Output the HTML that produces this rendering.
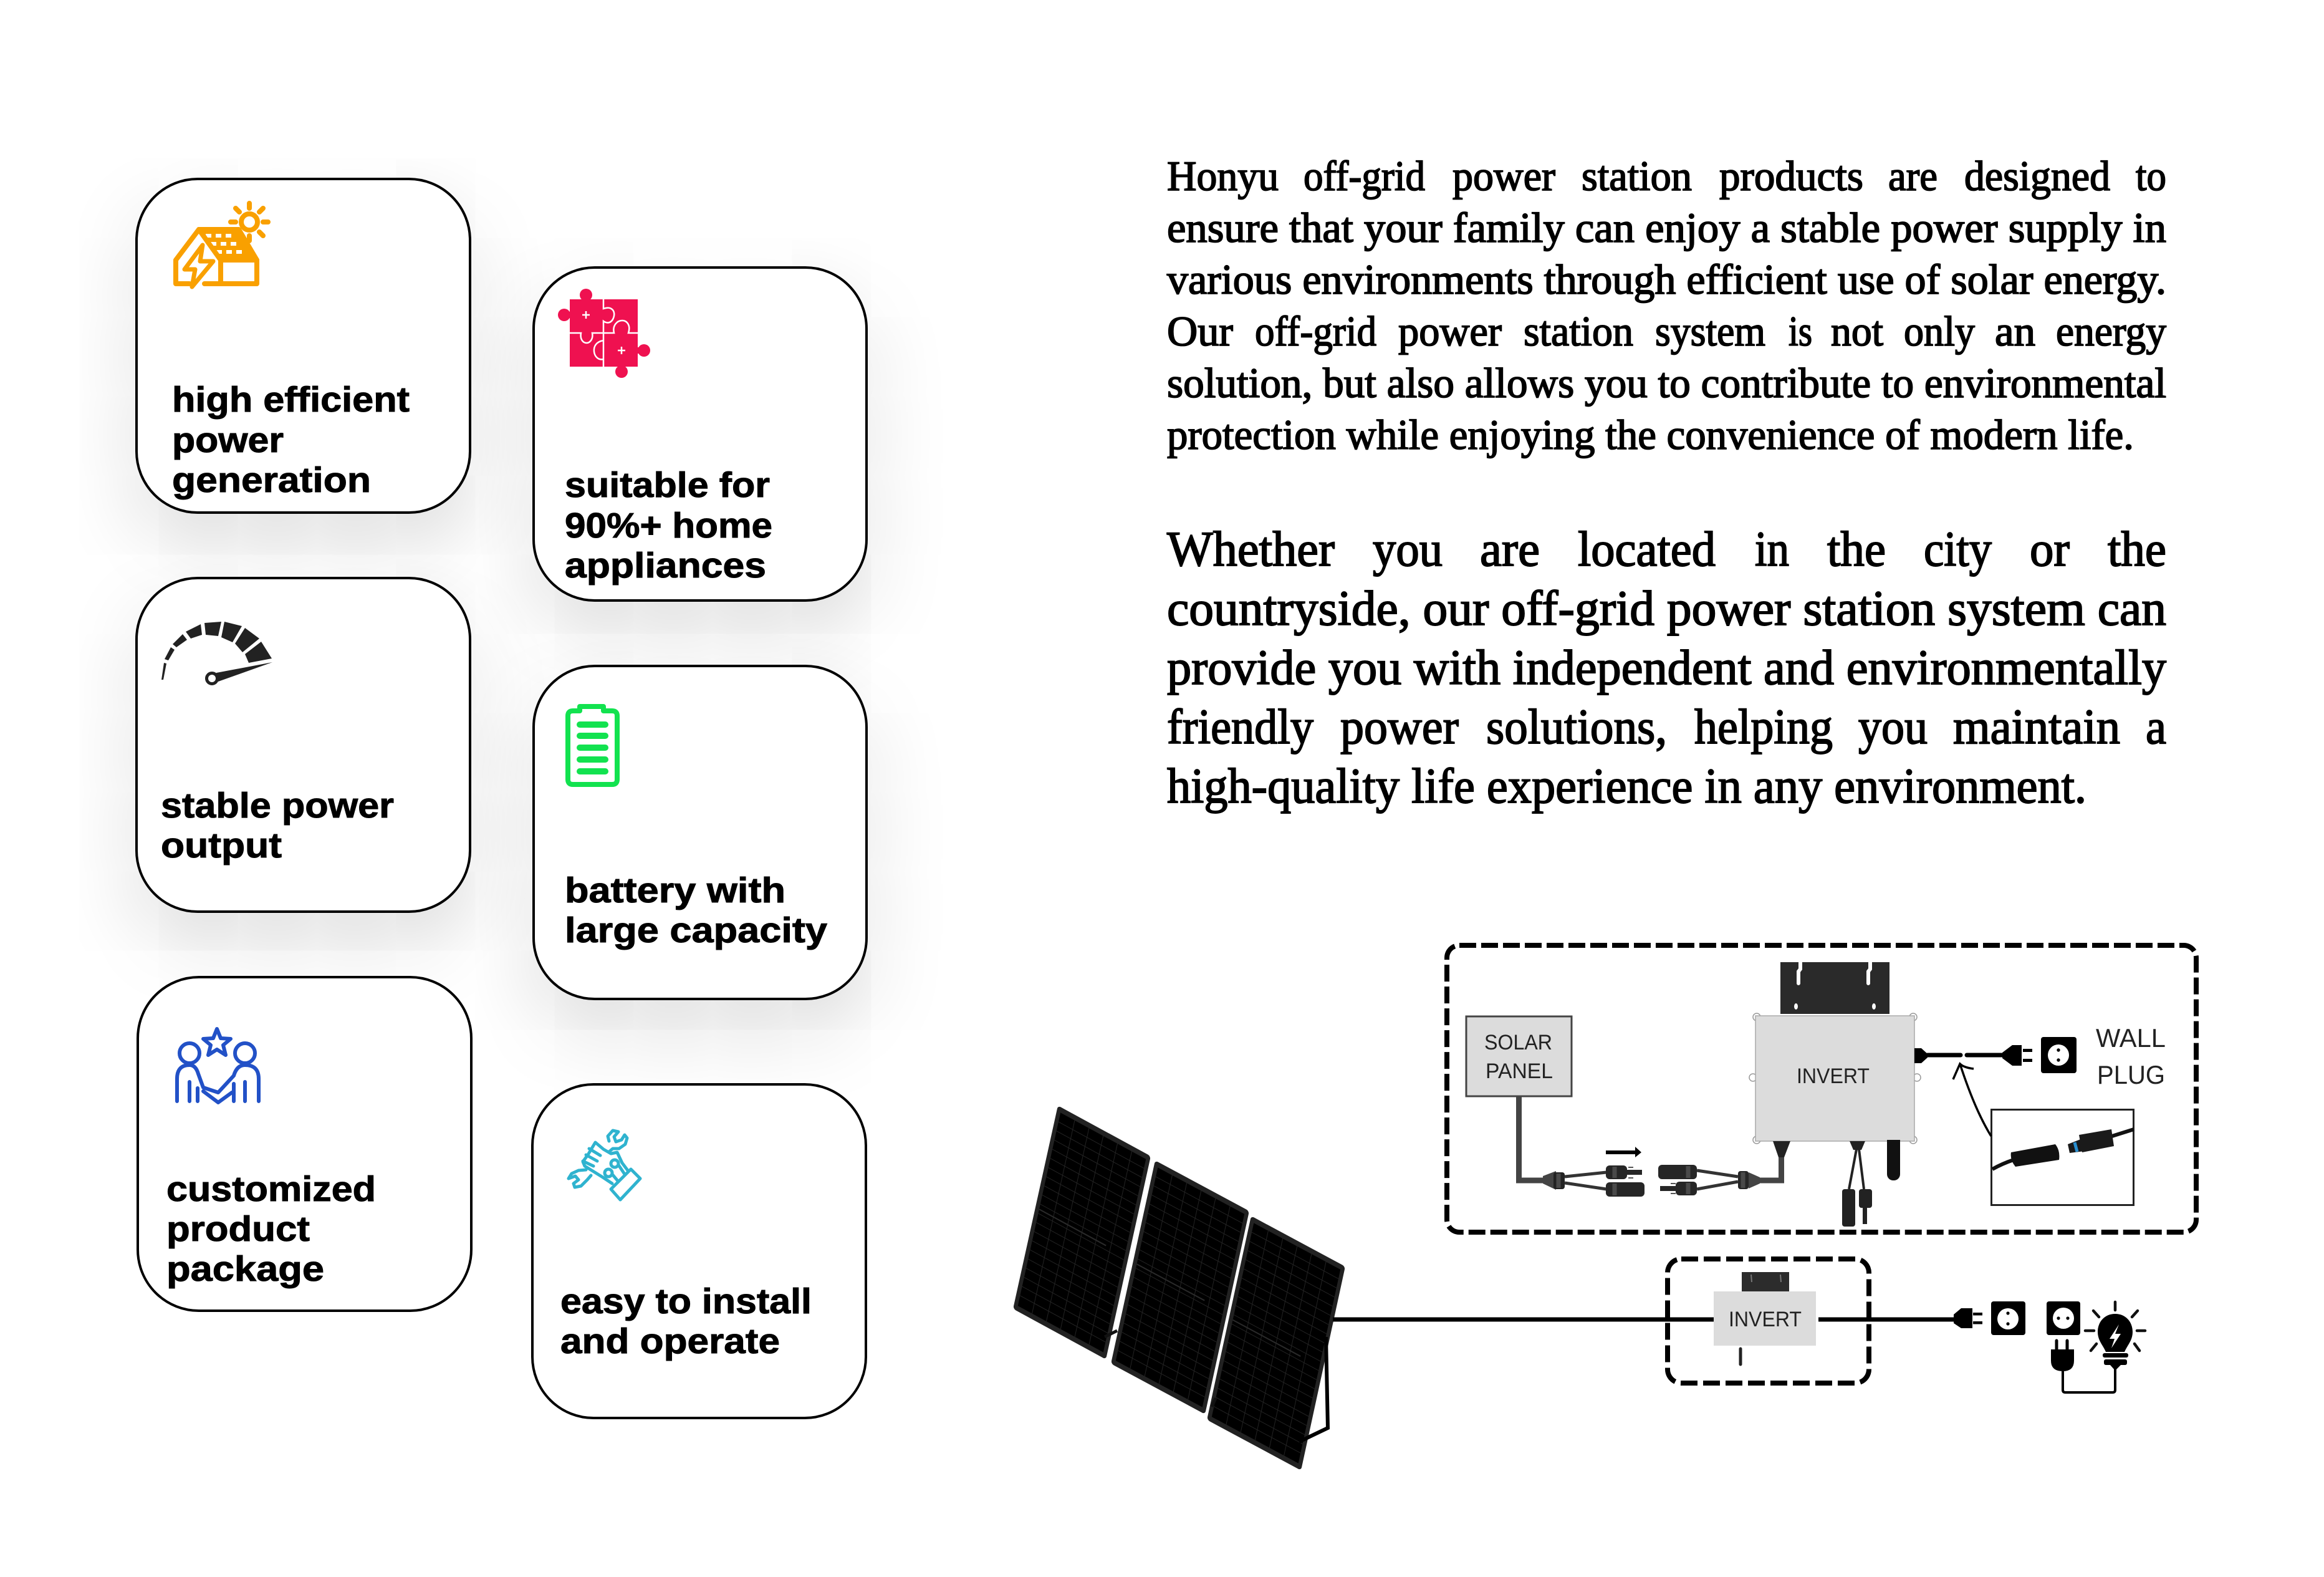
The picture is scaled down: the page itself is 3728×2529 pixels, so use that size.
<!DOCTYPE html>
<html>
<head>
<meta charset="utf-8">
<style>
html,body{margin:0;padding:0;background:#fff;width:3728px;height:2529px;overflow:hidden}
.c{position:absolute;box-sizing:border-box;width:539px;height:539px;background:#fff;border:4px solid #000;border-radius:100px}
.s{box-shadow:0 50px 140px rgba(0,0,0,.15)}
svg{position:absolute;left:0;top:0}
.b{font:bold 57px "Liberation Sans",sans-serif;fill:#000;stroke:#000;stroke-width:1}
.p1{font:68px "Liberation Serif",serif;fill:#000;stroke:#000;stroke-width:1.8}
.p2{font:79px "Liberation Serif",serif;fill:#000;stroke:#000;stroke-width:1.9}
.l{font:34px "Liberation Sans",sans-serif;fill:#222}
.w{font:42px "Liberation Sans",sans-serif;fill:#222}
</style>
</head>
<body>
<div class="c s" style="left:217px;top:285px"></div>
<div class="c s" style="left:217px;top:925px"></div>
<div class="c s" style="left:854px;top:427px;height:538px;width:538px"></div>
<div class="c s" style="left:854px;top:1066px;height:538px;width:538px"></div>
<div class="c" style="left:219px;top:1565px;height:539px"></div>
<div class="c" style="left:852px;top:1737px"></div>

<svg width="3728" height="2529" viewBox="0 0 3728 2529" xmlns="http://www.w3.org/2000/svg">
<!-- card text -->
<g>
<text class="b" x="276" y="660" textLength="381" lengthAdjust="spacingAndGlyphs">high efficient</text>
<text class="b" x="276" y="725" textLength="179" lengthAdjust="spacingAndGlyphs">power</text>
<text class="b" x="276" y="789" textLength="319" lengthAdjust="spacingAndGlyphs">generation</text>
<text class="b" x="906" y="797" textLength="329" lengthAdjust="spacingAndGlyphs">suitable for</text>
<text class="b" x="906" y="862" textLength="333" lengthAdjust="spacingAndGlyphs">90%+ home</text>
<text class="b" x="906" y="926" textLength="323" lengthAdjust="spacingAndGlyphs">appliances</text>
<text class="b" x="258" y="1311" textLength="374" lengthAdjust="spacingAndGlyphs">stable power</text>
<text class="b" x="258" y="1375" textLength="194" lengthAdjust="spacingAndGlyphs">output</text>
<text class="b" x="906" y="1447" textLength="354" lengthAdjust="spacingAndGlyphs">battery with</text>
<text class="b" x="906" y="1511" textLength="421" lengthAdjust="spacingAndGlyphs">large capacity</text>
<text class="b" x="267" y="1926" textLength="336" lengthAdjust="spacingAndGlyphs">customized</text>
<text class="b" x="267" y="1990" textLength="230" lengthAdjust="spacingAndGlyphs">product</text>
<text class="b" x="267" y="2054" textLength="253" lengthAdjust="spacingAndGlyphs">package</text>
<text class="b" x="899" y="2106" textLength="403" lengthAdjust="spacingAndGlyphs">easy to install</text>
<text class="b" x="899" y="2170" textLength="352" lengthAdjust="spacingAndGlyphs">and operate</text>
</g>

<!-- paragraph 1 -->
<g>
<text class="p1" x="1872" y="305" textLength="179" lengthAdjust="spacingAndGlyphs">Honyu</text>
<text class="p1" x="2091" y="305" textLength="195" lengthAdjust="spacingAndGlyphs">off-grid</text>
<text class="p1" x="2330" y="305" textLength="165" lengthAdjust="spacingAndGlyphs">power</text>
<text class="p1" x="2537" y="305" textLength="177" lengthAdjust="spacingAndGlyphs">station</text>
<text class="p1" x="2758" y="305" textLength="231" lengthAdjust="spacingAndGlyphs">products</text>
<text class="p1" x="3029" y="305" textLength="79" lengthAdjust="spacingAndGlyphs">are</text>
<text class="p1" x="3151" y="305" textLength="234" lengthAdjust="spacingAndGlyphs">designed</text>
<text class="p1" x="3426" y="305" textLength="49" lengthAdjust="spacingAndGlyphs">to</text>
<text class="p1" x="1872" y="388" textLength="1603" lengthAdjust="spacingAndGlyphs">ensure that your family can enjoy a stable power supply in</text>
<text class="p1" x="1872" y="471" textLength="1603" lengthAdjust="spacingAndGlyphs">various environments through efficient use of solar energy.</text>
<text class="p1" x="1872" y="554" textLength="106" lengthAdjust="spacingAndGlyphs">Our</text>
<text class="p1" x="2013" y="554" textLength="195" lengthAdjust="spacingAndGlyphs">off-grid</text>
<text class="p1" x="2243" y="554" textLength="166" lengthAdjust="spacingAndGlyphs">power</text>
<text class="p1" x="2444" y="554" textLength="176" lengthAdjust="spacingAndGlyphs">station</text>
<text class="p1" x="2655" y="554" textLength="177" lengthAdjust="spacingAndGlyphs">system</text>
<text class="p1" x="2869" y="554" textLength="38" lengthAdjust="spacingAndGlyphs">is</text>
<text class="p1" x="2937" y="554" textLength="84" lengthAdjust="spacingAndGlyphs">not</text>
<text class="p1" x="3054" y="554" textLength="114" lengthAdjust="spacingAndGlyphs">only</text>
<text class="p1" x="3200" y="554" textLength="65" lengthAdjust="spacingAndGlyphs">an</text>
<text class="p1" x="3298" y="554" textLength="177" lengthAdjust="spacingAndGlyphs">energy</text>
<text class="p1" x="1872" y="637" textLength="1603" lengthAdjust="spacingAndGlyphs">solution, but also allows you to contribute to environmental</text>
<text class="p1" x="1872" y="720" textLength="1551" lengthAdjust="spacingAndGlyphs">protection while enjoying the convenience of modern life.</text>
</g>

<!-- paragraph 2 -->
<g>
<text class="p2" x="1872" y="907" textLength="269" lengthAdjust="spacingAndGlyphs">Whether</text>
<text class="p2" x="2202" y="907" textLength="112" lengthAdjust="spacingAndGlyphs">you</text>
<text class="p2" x="2374" y="907" textLength="96" lengthAdjust="spacingAndGlyphs">are</text>
<text class="p2" x="2531" y="907" textLength="221" lengthAdjust="spacingAndGlyphs">located</text>
<text class="p2" x="2815" y="907" textLength="55" lengthAdjust="spacingAndGlyphs">in</text>
<text class="p2" x="2931" y="907" textLength="94" lengthAdjust="spacingAndGlyphs">the</text>
<text class="p2" x="3086" y="907" textLength="109" lengthAdjust="spacingAndGlyphs">city</text>
<text class="p2" x="3256" y="907" textLength="64" lengthAdjust="spacingAndGlyphs">or</text>
<text class="p2" x="3381" y="907" textLength="94" lengthAdjust="spacingAndGlyphs">the</text>
<text class="p2" x="1872" y="1002" textLength="1603" lengthAdjust="spacingAndGlyphs">countryside, our off-grid power station system can</text>
<text class="p2" x="1872" y="1097" textLength="1603" lengthAdjust="spacingAndGlyphs">provide you with independent and environmentally</text>
<text class="p2" x="1872" y="1192" textLength="235" lengthAdjust="spacingAndGlyphs">friendly</text>
<text class="p2" x="2150" y="1192" textLength="190" lengthAdjust="spacingAndGlyphs">power</text>
<text class="p2" x="2384" y="1192" textLength="290" lengthAdjust="spacingAndGlyphs">solutions,</text>
<text class="p2" x="2718" y="1192" textLength="222" lengthAdjust="spacingAndGlyphs">helping</text>
<text class="p2" x="2981" y="1192" textLength="111" lengthAdjust="spacingAndGlyphs">you</text>
<text class="p2" x="3133" y="1192" textLength="268" lengthAdjust="spacingAndGlyphs">maintain</text>
<text class="p2" x="3442" y="1192" textLength="33" lengthAdjust="spacingAndGlyphs">a</text>
<text class="p2" x="1872" y="1287" textLength="1475" lengthAdjust="spacingAndGlyphs">high-quality life experience in any environment.</text>
</g>

<!-- house icon -->
<polygon points="319,368 383,368 412,417 354,417" fill="#f9a000"/>
<g fill="#fff">
<rect x="330" y="375" width="9" height="6"/><rect x="346" y="375" width="9" height="6"/><rect x="362" y="375" width="9" height="6"/>
<rect x="338" y="388" width="9" height="6"/><rect x="354" y="388" width="9" height="6"/><rect x="370" y="388" width="9" height="6"/>
<rect x="347" y="401" width="9" height="6"/><rect x="363" y="401" width="9" height="6"/><rect x="379" y="401" width="9" height="6"/>
</g>
<g fill="none" stroke="#f9a000" stroke-width="8" stroke-linejoin="round" stroke-linecap="round">
<path d="M304 455H282V417L319 368H383L412 417V455H328"/>
<path d="M319 368L354 417V455M354 417H412"/>
<path d="M325 393L296 432H313L308 460L342 419H321Z" stroke-width="7"/>
<circle cx="400" cy="356" r="13"/>
<path d="M400 334V326M400 378V386M378 356H370M422 356H430M384 340L378 334M416 340L422 334M384 372L378 378M416 372L422 378" stroke-width="8"/>
</g>

<!-- puzzle icon -->
<g fill="#ef1150">
<rect x="914" y="480" width="109" height="108"/>
<circle cx="940" cy="473" r="10"/><rect x="935" y="473" width="10" height="10"/>
<circle cx="905" cy="505" r="10"/><rect x="905" y="500" width="10" height="10"/>
<circle cx="1033" cy="562" r="10"/><rect x="1022" y="557" width="10" height="10"/>
<circle cx="997" cy="596" r="10"/><rect x="992" y="587" width="10" height="9"/>
</g>
<g fill="none" stroke="#fff" stroke-width="2.500">
<path d="M968 480V495C982 490 988 500 984 510C980 520 972 518 968 515V588"/>
<path d="M914 534H932C930 545 936 550 941 550C946 550 952 544 950 534H985C982 522 990 514 998 514C1006 514 1012 522 1008 534H1023"/>
<path d="M968 546C956 548 952 556 953 564C954 572 960 578 968 576"/>
<path d="M934 505H946M940 499V511M991 562H1003M997 556V568"/>
</g>

<!-- speedometer -->
<g fill="#222">
<polygon points="263,1063 267,1064 262,1090 259,1090"/>
<polygon points="274,1038 280,1042 270,1059 264,1057"/>
<polygon points="293,1017 300,1026 283,1038 277,1033"/>
<polygon points="322,1001 324,1018 306,1024 298,1013"/>
<polygon points="328,999 355,997 350,1020 330,1018"/>
<polygon points="360,997 388,1004 373,1030 355,1022"/>
<polygon points="393,1007 416,1024 389,1046 377,1032"/>
<polygon points="419,1029 436,1056 399,1063 393,1049"/>
<polygon points="437,1062 347,1079 350,1093"/>
<circle cx="340" cy="1088" r="8.500" fill="#fff" stroke="#222" stroke-width="5"/>
</g>

<!-- battery -->
<g fill="none" stroke="#12e24f" stroke-linecap="round" stroke-linejoin="round">
<path d="M930 1140V1133H968V1140H982Q990 1140 990 1148V1250Q990 1258 982 1258H919Q911 1258 911 1250V1148Q911 1140 919 1140Z" stroke-width="8"/>
<path d="M930 1162H971M930 1180H971M930 1199H971M930 1218H971M930 1237H971" stroke-width="10"/>
</g>

<!-- customer icon -->
<g fill="none" stroke="#2251c7" stroke-width="6" stroke-linejoin="round" stroke-linecap="round">
<circle cx="304" cy="1689" r="16"/><circle cx="393" cy="1689" r="16"/>
<path d="M348 1650L354 1665L370 1666L358 1676L362 1692L348 1683L334 1692L338 1676L326 1666L342 1665Z"/>
<path d="M284 1766V1730Q284 1708 304 1708Q314 1708 318 1722L326 1744L350 1752L375 1725Q380 1708 393 1708Q415 1708 415 1730V1766"/>
<path d="M304 1735V1766M393 1735V1766M317 1745V1766M375 1738V1766M326 1750L350 1768L372 1752"/>
</g>

<!-- tools icon -->
<g fill="none" stroke="#2fb3cf" stroke-width="5" stroke-linejoin="round" stroke-linecap="round">
<path d="M977 1830L975 1822L983 1813L992 1815L985 1823L988 1831L997 1828L1002 1820L1006 1825L1003 1835L993 1842L983 1842L977 1847"/>
<path d="M912 1890L923 1886L928 1892L920 1898L922 1904L932 1902L942 1892L948 1885M912 1890L917 1882L928 1877L940 1876"/>
<path d="M982 1898L967 1888L938 1870L935 1863L943 1852L955 1832L968 1843L980 1850L990 1848L998 1865L1007 1877"/>
<path d="M945 1842L963 1853M940 1852L958 1862M935 1862L952 1870"/>
<path d="M980 1907L1012 1875L1027 1890L995 1924Z"/>
<circle cx="986" cy="1866" r="6"/><circle cx="976" cy="1881" r="6"/>
<path d="M992 1868L1002 1883M982 1883L992 1895"/>
</g>

<!-- solar panels -->
<defs>
<g id="pv">
<rect x="0" y="0" width="100" height="100" rx="3" ry="1.500" fill="#222"/>
<rect x="4" y="2.500" width="92" height="95" fill="#000"/>
<path d="M19.300 2.500V97.500M34.700 2.500V97.500M50 2.500V97.500M65.300 2.500V97.500M80.700 2.500V97.500M4 7H96M4 11.500H96M4 16H96M4 20.500H96M4 25H96M4 29.500H96M4 34H96M4 38.500H96M4 43H96M4 47.500H96M4 52H96M4 56.500H96M4 61H96M4 65.500H96M4 70H96M4 74.500H96M4 79H96M4 83.500H96M4 88H96M4 92.500H96" stroke="#232323" stroke-width="1" fill="none" vector-effect="non-scaling-stroke"/>
<path d="M4 50H76" stroke="#2a2a2a" stroke-width="2" fill="none" vector-effect="non-scaling-stroke"/>
</g>
</defs>
<use href="#pv" transform="matrix(1.49 .81 -.72 3.26 1697 1773)"/>
<use href="#pv" transform="matrix(1.51 .81 -.71 3.26 1853 1861)"/>
<use href="#pv" transform="matrix(1.51 .81 -.71 3.27 2007 1950)"/>
<path d="M1772 2144L1792 2134M1944 2256L1950 2242" stroke="#111" stroke-width="5"/>
<path d="M2127 2144L2130 2290L2084 2312" fill="none" stroke="#000" stroke-width="6"/>

<!-- long line -->
<path d="M2138 2116H2749M2917 2116H3134" stroke="#000" stroke-width="7"/>

<!-- small dashed -->
<rect x="2675" y="2019" width="323" height="199" rx="22" fill="none" stroke="#000" stroke-width="8" stroke-dasharray="27 9"/>
<rect x="2794" y="2040" width="76" height="31" fill="#2c2c2c"/>
<path d="M2809 2044l1 12M2856 2044l1 12" stroke="#777" stroke-width="2"/>
<rect x="2749" y="2071" width="164" height="87" fill="#dcdcdc"/>
<text class="l" x="2773" y="2127" textLength="117" lengthAdjust="spacingAndGlyphs">INVERT</text>
<path d="M2792 2163V2188" stroke="#222" stroke-width="5" stroke-linecap="round"/>

<!-- lower plug -->
<path d="M3134 2108L3146 2098H3164V2130H3146L3134 2122Z" fill="#000"/>
<rect x="3165" y="2105" width="15" height="4.500" fill="#000"/><rect x="3165" y="2119" width="15" height="4.500" fill="#000"/>
<rect x="3194" y="2087" width="55" height="54" rx="4" fill="#000"/>
<circle cx="3221" cy="2115" r="17" fill="#fff"/><circle cx="3221" cy="2106" r="2.600"/><circle cx="3221" cy="2123" r="2.600"/>
<rect x="3283" y="2087" width="54" height="54" rx="4" fill="#000"/>
<circle cx="3310" cy="2114" r="17" fill="#fff"/><circle cx="3302" cy="2114" r="2.600"/><circle cx="3317" cy="2114" r="2.600"/>
<path d="M3299 2150V2165M3316 2150V2165" stroke="#000" stroke-width="5" stroke-linecap="round"/>
<path d="M3290 2164H3327V2182Q3327 2199 3309 2199Q3290 2199 3290 2182Z" fill="#000"/>
<path d="M3309 2199V2229Q3309 2233 3313 2233H3389Q3393 2233 3393 2229V2195" fill="none" stroke="#000" stroke-width="4"/>

<!-- bulb -->
<path d="M3393 2107C3376 2107 3365 2120 3365 2136C3365 2150 3374 2158 3378 2168H3408C3412 2158 3421 2150 3421 2136C3421 2120 3410 2107 3393 2107Z" fill="#000"/>
<path d="M3399 2124L3384 2147H3392L3387 2162L3402 2139H3393Z" fill="#fff"/>
<rect x="3373" y="2170" width="41" height="7" rx="3" fill="#000"/>
<rect x="3375" y="2180" width="37" height="9" rx="3" fill="#000"/>
<path d="M3385 2189H3402L3393 2198Z" fill="#000"/>
<path d="M3393 2088V2101M3428 2134H3441M3345 2134H3359M3358 2102L3367 2112M3429 2102L3420 2112M3363 2155L3354 2166M3424 2155L3432 2166" stroke="#111" stroke-width="4.500" stroke-linecap="round"/>

<!-- large dashed -->
<rect x="2321" y="1516" width="1202" height="460" rx="20" fill="none" stroke="#000" stroke-width="8" stroke-dasharray="27 8"/>

<!-- solar panel box -->
<rect x="2352" y="1630" width="169" height="128" fill="#dcdcdc" stroke="#444" stroke-width="3"/>
<text class="l" x="2381" y="1683" textLength="109" lengthAdjust="spacingAndGlyphs">SOLAR</text>
<text class="l" x="2383" y="1729" textLength="108" lengthAdjust="spacingAndGlyphs">PANEL</text>

<!-- left wiring -->
<path d="M2436.500 1758V1893H2480M2792 1893H2857.500V1850" fill="none" stroke="#444" stroke-width="9"/>
<path d="M2475 1886L2496 1878V1908L2475 1898Z" fill="#444"/>
<rect x="2492" y="1880" width="18" height="27" rx="4" fill="#222"/>
<path d="M2510 1887L2577 1880M2510 1897L2577 1907M2722 1877L2788 1887M2722 1907L2788 1895" stroke="#333" stroke-width="5"/>
<g fill="#262626">
<rect x="2576" y="1869" width="34" height="22" rx="6"/>
<rect x="2610" y="1876" width="24" height="8"/>
<path d="M2612 1872h8M2612 1889h8" stroke="#555" stroke-width="2"/>
<rect x="2576" y="1896" width="62" height="23" rx="6"/>
<rect x="2660" y="1868" width="62" height="23" rx="6"/>
<rect x="2688" y="1895" width="34" height="22" rx="6"/>
<rect x="2663" y="1902" width="25" height="8"/>
<path d="M2680 1898h8M2680 1914h8" stroke="#555" stroke-width="2"/>
<rect x="2788" y="1878" width="17" height="29" rx="4"/>
</g>
<path d="M2590 1871v18M2590 1898v19M2708 1870v19M2708 1897v18M2500 1882v23M2796 1880v25" stroke="#4a4a4a" stroke-width="7"/>
<path d="M2805 1880L2823 1888V1898L2805 1906Z" fill="#444"/>
<path d="M2576 1845H2623V1839L2633 1848L2623 1856V1851H2576Z" fill="#000"/>

<!-- inverter bracket and body -->
<path d="M2856 1543H3031V1626H2856Z" fill="#2a2a2a"/>
<path d="M2888 1543V1554L2885 1558V1577M3000 1543V1554L2997 1558V1577" fill="none" stroke="#fff" stroke-width="6" stroke-linecap="round"/>
<ellipse cx="2881" cy="1614" rx="3" ry="5" fill="#fff"/><ellipse cx="3006" cy="1614" rx="3" ry="5" fill="#fff"/>
<circle cx="2812" cy="1728" r="6" fill="#fff" stroke="#999" stroke-width="1.500"/>
<circle cx="3075" cy="1728" r="6" fill="#fff" stroke="#999" stroke-width="1.500"/>
<circle cx="2818" cy="1631" r="6" fill="#fff" stroke="#999" stroke-width="1.500"/>
<circle cx="3069" cy="1631" r="6" fill="#fff" stroke="#999" stroke-width="1.500"/>
<circle cx="2818" cy="1828" r="6" fill="#fff" stroke="#999" stroke-width="1.500"/>
<circle cx="3069" cy="1828" r="6" fill="#fff" stroke="#999" stroke-width="1.500"/>
<rect x="2816" y="1629" width="255" height="201" fill="#dcdcdc" stroke="#aaa" stroke-width="1.500"/>
<text class="l" x="2882" y="1737" textLength="117" lengthAdjust="spacingAndGlyphs">INVERT</text>

<!-- inverter bottom -->
<path d="M2844 1830H2872L2862 1856H2853Z" fill="#222"/>
<path d="M2967 1830H2992L2986 1844H2973Z" fill="#222"/>
<path d="M2978 1843L2966 1907M2982 1843L2990 1907" stroke="#222" stroke-width="4"/>
<rect x="2955" y="1907" width="21" height="60" rx="4" fill="#222"/>
<rect x="2982" y="1907" width="21" height="30" rx="4" fill="#222"/>
<rect x="2988" y="1937" width="7" height="26" fill="#222"/>
<rect x="3027" y="1830" width="21" height="63" rx="10" fill="#111"/>
<rect x="3027" y="1828" width="21" height="20" fill="#111"/>

<!-- output cable + plug -->
<path d="M3071 1681H3082L3092 1690V1696L3082 1705H3071Z" fill="#000"/>
<path d="M3092 1692H3145M3155 1692H3213" stroke="#000" stroke-width="7" stroke-linecap="round"/>
<path d="M3212 1688L3228 1676H3243V1709H3228L3212 1697Z" fill="#000"/>
<rect x="3245" y="1682" width="15" height="5" fill="#000"/><rect x="3245" y="1698" width="15" height="5" fill="#000"/>
<rect x="3274" y="1663" width="57" height="58" rx="4" fill="#000"/>
<circle cx="3302" cy="1692" r="17" fill="#fff"/><circle cx="3302" cy="1684" r="2.700"/><circle cx="3302" cy="1700" r="2.700"/>
<text class="w" x="3362" y="1679" textLength="112" lengthAdjust="spacingAndGlyphs">WALL</text>
<text class="w" x="3364" y="1738" textLength="109" lengthAdjust="spacingAndGlyphs">PLUG</text>

<!-- inset -->
<rect x="3194.500" y="1779.500" width="228" height="153" fill="#fff" stroke="#222" stroke-width="3"/>
<path d="M3194 1822Q3168 1780 3144 1706M3133 1731L3144 1706Q3150 1712 3166 1714" fill="none" stroke="#000" stroke-width="3.500"/>
<path d="M3196 1875Q3212 1866 3230 1860M3388 1822L3423 1811" stroke="#111" stroke-width="6" fill="none"/>
<path d="M3226 1848L3297 1835Q3305 1845 3303 1860L3233 1871Q3224 1860 3226 1848Z" fill="#111"/>
<path d="M3335 1820L3387 1811L3391 1838L3340 1848Z" fill="#1a1a1a"/>
<path d="M3317 1835L3340 1826L3344 1846L3320 1849Z" fill="#1a1a1a"/>
<path d="M3328 1832L3332 1847" stroke="#2a8fd0" stroke-width="5"/>
</svg>
</body>
</html>
